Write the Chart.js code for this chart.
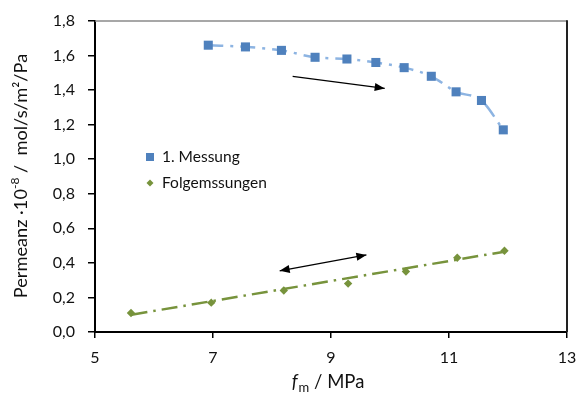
<!DOCTYPE html>
<html><head><meta charset="utf-8">
<script src="https://cdn.jsdelivr.net/npm/chart.js@4.4.0/dist/chart.umd.min.js"></script>
<style>html,body{margin:0;padding:0;background:#fff}#w{width:578px;height:394px}</style>
</head><body><div id="w"><canvas id="c"></canvas></div>
<script>
const seriesNames = ['1. Messung', 'Folgemssungen'];
const firstX = [6.92, 7.55, 8.16, 8.73, 9.27, 9.76, 10.24, 10.70, 11.12, 11.55, 11.92];
const firstY = [1.66, 1.65, 1.63, 1.59, 1.58, 1.56, 1.53, 1.48, 1.39, 1.34, 1.17];
const followX = [5.61, 6.97, 8.20, 9.29, 10.27, 11.14, 11.94];
const followY = [0.11, 0.17, 0.24, 0.28, 0.35, 0.43, 0.47];
const followTrendX = [5.62, 11.94];
const followTrendY = [0.10, 0.465];
const xTicks = [5, 7, 9, 11, 13];
const yTicks = [0, 0.2, 0.4, 0.6, 0.8, 1.0, 1.2, 1.4, 1.6, 1.8];
const arrowStartX = [8.35, 8.13];
const arrowStartY = [1.48, 0.354];
const arrowEndX = [9.91, 9.60];
const arrowEndY = [1.41, 0.446];
const arrowDouble = [false, true];

const FONT = 'Lato, "Open Sans", sans-serif';
const BLUE = '#4F81BD', BLUE_LINE = '#8DB4E2', GREEN = '#77933C';

const zip = (xs, ys) => xs.map((x, i) => ({x, y: ys[i]}));

const deco = {
  id: 'deco',
  afterDraw(chart) {
    const ctx = chart.ctx, a = chart.chartArea, xs = chart.scales.x, ys = chart.scales.y;
    ctx.save();
    // plot border top/right
    ctx.strokeStyle = '#8a8a8a'; ctx.lineWidth = 1.5;
    ctx.beginPath(); ctx.moveTo(a.left, a.top); ctx.lineTo(a.right, a.top); ctx.stroke();
    ctx.strokeStyle = '#222'; ctx.lineWidth = 2;
    ctx.beginPath(); ctx.moveTo(a.right, a.top - 0.75); ctx.lineTo(a.right, a.bottom); ctx.stroke();
    // arrows
    ctx.strokeStyle = '#000'; ctx.fillStyle = '#000'; ctx.lineWidth = 1.3;
    const head = (x1, y1, x2, y2) => {
      const ang = Math.atan2(y2 - y1, x2 - x1), L = 10, W = 4;
      ctx.beginPath();
      ctx.moveTo(x2, y2);
      ctx.lineTo(x2 - L * Math.cos(ang) + W * Math.sin(ang), y2 - L * Math.sin(ang) - W * Math.cos(ang));
      ctx.lineTo(x2 - L * Math.cos(ang) - W * Math.sin(ang), y2 - L * Math.sin(ang) + W * Math.cos(ang));
      ctx.closePath(); ctx.fill();
    };
    for (let i = 0; i < arrowStartX.length; i++) {
      const x1 = xs.getPixelForValue(arrowStartX[i]), y1 = ys.getPixelForValue(arrowStartY[i]);
      const x2 = xs.getPixelForValue(arrowEndX[i]), y2 = ys.getPixelForValue(arrowEndY[i]);
      ctx.beginPath(); ctx.moveTo(x1, y1); ctx.lineTo(x2, y2); ctx.stroke();
      head(x1, y1, x2, y2);
      if (arrowDouble[i]) head(x2, y2, x1, y1);
    }
    // legend
    ctx.font = '15.5px ' + FONT; ctx.textBaseline = 'middle';
    ctx.fillStyle = BLUE; ctx.fillRect(146, 153, 8, 8);
    ctx.fillStyle = '#111'; ctx.fillText(seriesNames[0], 162, 157);
    ctx.fillStyle = GREEN;
    ctx.beginPath(); ctx.moveTo(150, 179.5); ctx.lineTo(153.5, 183); ctx.lineTo(150, 186.5); ctx.lineTo(146.5, 183); ctx.closePath(); ctx.fill();
    ctx.fillStyle = '#111'; ctx.fillText(seriesNames[1], 162, 183);
    // x title
    ctx.textBaseline = 'alphabetic';
    const fF = 'italic 18.5px ' + FONT, fS = '13px ' + FONT, fN = '18.5px ' + FONT;
    ctx.font = fF; const w1 = ctx.measureText('f').width;
    ctx.font = fS; const w2 = ctx.measureText('m').width;
    ctx.font = fN; const w3 = ctx.measureText(' / MPa').width;
    let x0 = 328 - (w1 + w2 + 1 + w3) / 2, by = 388;
    ctx.font = fF; ctx.fillText('f', x0, by);
    ctx.font = fS; ctx.fillText('m', x0 + w1 + 1, by + 4);
    ctx.font = fN; ctx.fillText(' / MPa', x0 + w1 + w2 + 1, by);
    // y title
    ctx.translate(27, 176); ctx.rotate(-Math.PI / 2);
    const p1 = 'Permeanz ·10', p2 = '-8', p3 = ' /  mol/s/m²/Pa';
    const fB = '18.2px ' + FONT, fU = '12px ' + FONT;
    ctx.font = fB; const a1 = ctx.measureText(p1).width, a3 = ctx.measureText(p3).width;
    ctx.font = fU; const a2 = ctx.measureText(p2).width;
    let sx = -(a1 + a2 + a3) / 2;
    ctx.font = fB; ctx.fillText(p1, sx, 0);
    ctx.font = fU; ctx.fillText(p2, sx + a1, -8);
    ctx.font = fB; ctx.fillText(p3, sx + a1 + a2, 0);
    ctx.restore();
  }
};

new Chart(document.getElementById('c'), {
  type: 'scatter',
  data: {
    datasets: [
      {
        label: seriesNames[1] + ' trend', data: zip(followTrendX, followTrendY), showLine: true,
        borderColor: GREEN, borderWidth: 2.5, borderDash: [16, 6, 2.5, 6], pointRadius: 0
      },
      {
        label: seriesNames[1], data: zip(followX, followY), showLine: false,
        pointStyle: 'rectRot', pointRadius: 4.2, backgroundColor: GREEN, borderColor: GREEN, borderWidth: 0
      },
      {
        label: seriesNames[0], data: zip(firstX, firstY), showLine: true,
        cubicInterpolationMode: 'monotone',
        borderColor: BLUE_LINE, borderWidth: 2.5, borderDash: [15, 7, 3, 7],
        pointStyle: 'rect', pointRadius: 6.4, pointBackgroundColor: BLUE, pointBorderColor: BLUE, pointBorderWidth: 0
      }
    ]
  },
  options: {
    responsive: true, maintainAspectRatio: false, animation: false,
    layout: {padding: {top: 21, right: 11, left: 0, bottom: 0}},
    plugins: {legend: {display: false}, tooltip: {enabled: false}},
    scales: {
      x: {
        type: 'linear', min: 5, max: 13,
        afterBuildTicks: s => { s.ticks = xTicks.map(v => ({value: v})); },
        afterFit: s => { s.height = 62; s.paddingLeft = 0; s.paddingRight = 0; },
        grid: {drawOnChartArea: false, drawTicks: true, tickLength: 6, color: '#000', lineWidth: 1.5},
        border: {display: true, color: '#000', width: 2},
        ticks: {font: {family: FONT, size: 16}, color: '#111', padding: 10}
      },
      y: {
        type: 'linear', min: 0, max: 1.8,
        afterBuildTicks: s => { s.ticks = yTicks.map(v => ({value: v})); },
        afterFit: s => { s.width = 95; s.paddingTop = 0; s.paddingBottom = 0; },
        grid: {drawOnChartArea: false, drawTicks: true, tickLength: 7, color: '#000', lineWidth: 1.5},
        border: {display: true, color: '#000', width: 2},
        ticks: {font: {family: FONT, size: 16}, color: '#111', padding: 13,
          callback: v => v.toFixed(1).replace('.', ',')}
      }
    }
  },
  plugins: [deco]
});
</script>
</body></html>
